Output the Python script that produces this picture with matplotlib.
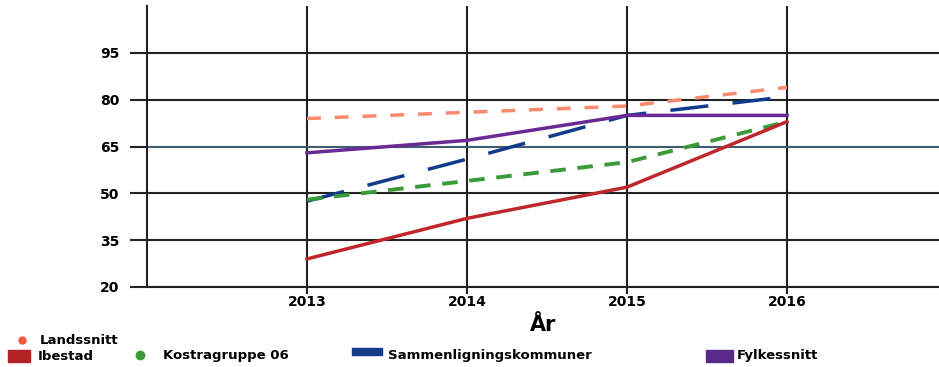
import matplotlib
matplotlib.use("Agg")
import matplotlib.pyplot as plt
from matplotlib.lines import Line2D
from matplotlib.patches import Rectangle

years = [2013, 2014, 2015, 2016]
ibestad = [29, 42, 52, 73]
kostra = [48, 54, 60, 73]
sammenligning = [47.5, 61, 75, 81]
fylke = [63, 67, 75, 75]
lands = [74, 76, 78, 84]
yticks = [20, 35, 50, 65, 80, 95]

W, H = 939, 367
fig = plt.figure(figsize=(W / 100, H / 100), dpi=100)
ax = fig.add_axes([147 / W, 1 - 287 / H, 1 - 147 / W, (287 - 6) / H])

ax.plot(years, lands, color="#fa8a6e", lw=2.5, ls=(0, (4, 4)))
ax.plot(years, sammenligning, color="#123a8a", lw=2.5, ls=(0, (11, 7)))
ax.plot(years, fylke, color="#6a2a96", lw=2.5)
ax.plot(years, kostra, color="#3a9a3a", lw=2.8, ls=(0, (4, 3)))
ax.plot(years, ibestad, color="#c0272d", lw=2.5)

ax.set_xlim(2012, 2012 + (W - 147) / 160)
ax.set_ylim(20, 20 + (287 - 6) / 46.8 * 15)
ax.set_xticks(years)
ax.set_yticks(yticks)
ax.grid(True, color="#222222", lw=1.5)
ax.axhline(65, color="#4a6a80", lw=1.2, zorder=1.5)
ax.set_axisbelow(True)
for s in ["top", "right"]:
    ax.spines[s].set_visible(False)
for s in ["left", "bottom"]:
    ax.spines[s].set_color("#222222")
    ax.spines[s].set_linewidth(1.5)
ax.tick_params(axis="y", length=12, width=1.5, color="#222222", pad=8)
ax.tick_params(axis="x", length=5, width=1.5, color="#222222", pad=1)
for lab in ax.get_xticklabels() + ax.get_yticklabels():
    lab.set_fontweight("bold")
    lab.set_fontsize(10)
ax.set_xlabel("År", fontsize=15, fontweight="bold", labelpad=4)

# legend, placed by hand in pixel positions
def px(x, y):
    return x / W, 1 - y / H

lfont = dict(fontsize=9.5, fontweight="bold", va="center", ha="left")
fig.add_artist(Line2D([px(22, 0)[0]], [px(0, 340)[1]], ls="", marker="o", ms=5,
                      color="#fa5a40", transform=fig.transFigure))
fig.text(*px(40, 340), "Landssnitt", **lfont)

row = 356
items = [("Ibestad", "rect", "#b22222", 8, 30, 38),
         ("Kostragruppe 06", "dot", "#3a9a3a", 140, 146, 163),
         ("Sammenligningskommuner", "bar", "#123a8a", 352, 382, 388),
         ("Fylkessnitt", "rect", "#5a2a8a", 706, 733, 737)]
for name, kind, col, x0, x1, xt in items:
    if kind == "dot":
        fig.add_artist(Line2D([px(x0, 0)[0]], [px(0, row - 1)[1]], ls="", marker="o", ms=6,
                              color=col, transform=fig.transFigure))
    else:
        h = 12 if kind == "rect" else 7
        y0 = row + 6 if kind == "rect" else row - 1
        fig.add_artist(Rectangle(px(x0, y0), (x1 - x0) / W, h / H, color=col,
                                 transform=fig.transFigure))
    fig.text(*px(xt, row), name, **lfont)

fig.savefig("out.png", dpi=100)
